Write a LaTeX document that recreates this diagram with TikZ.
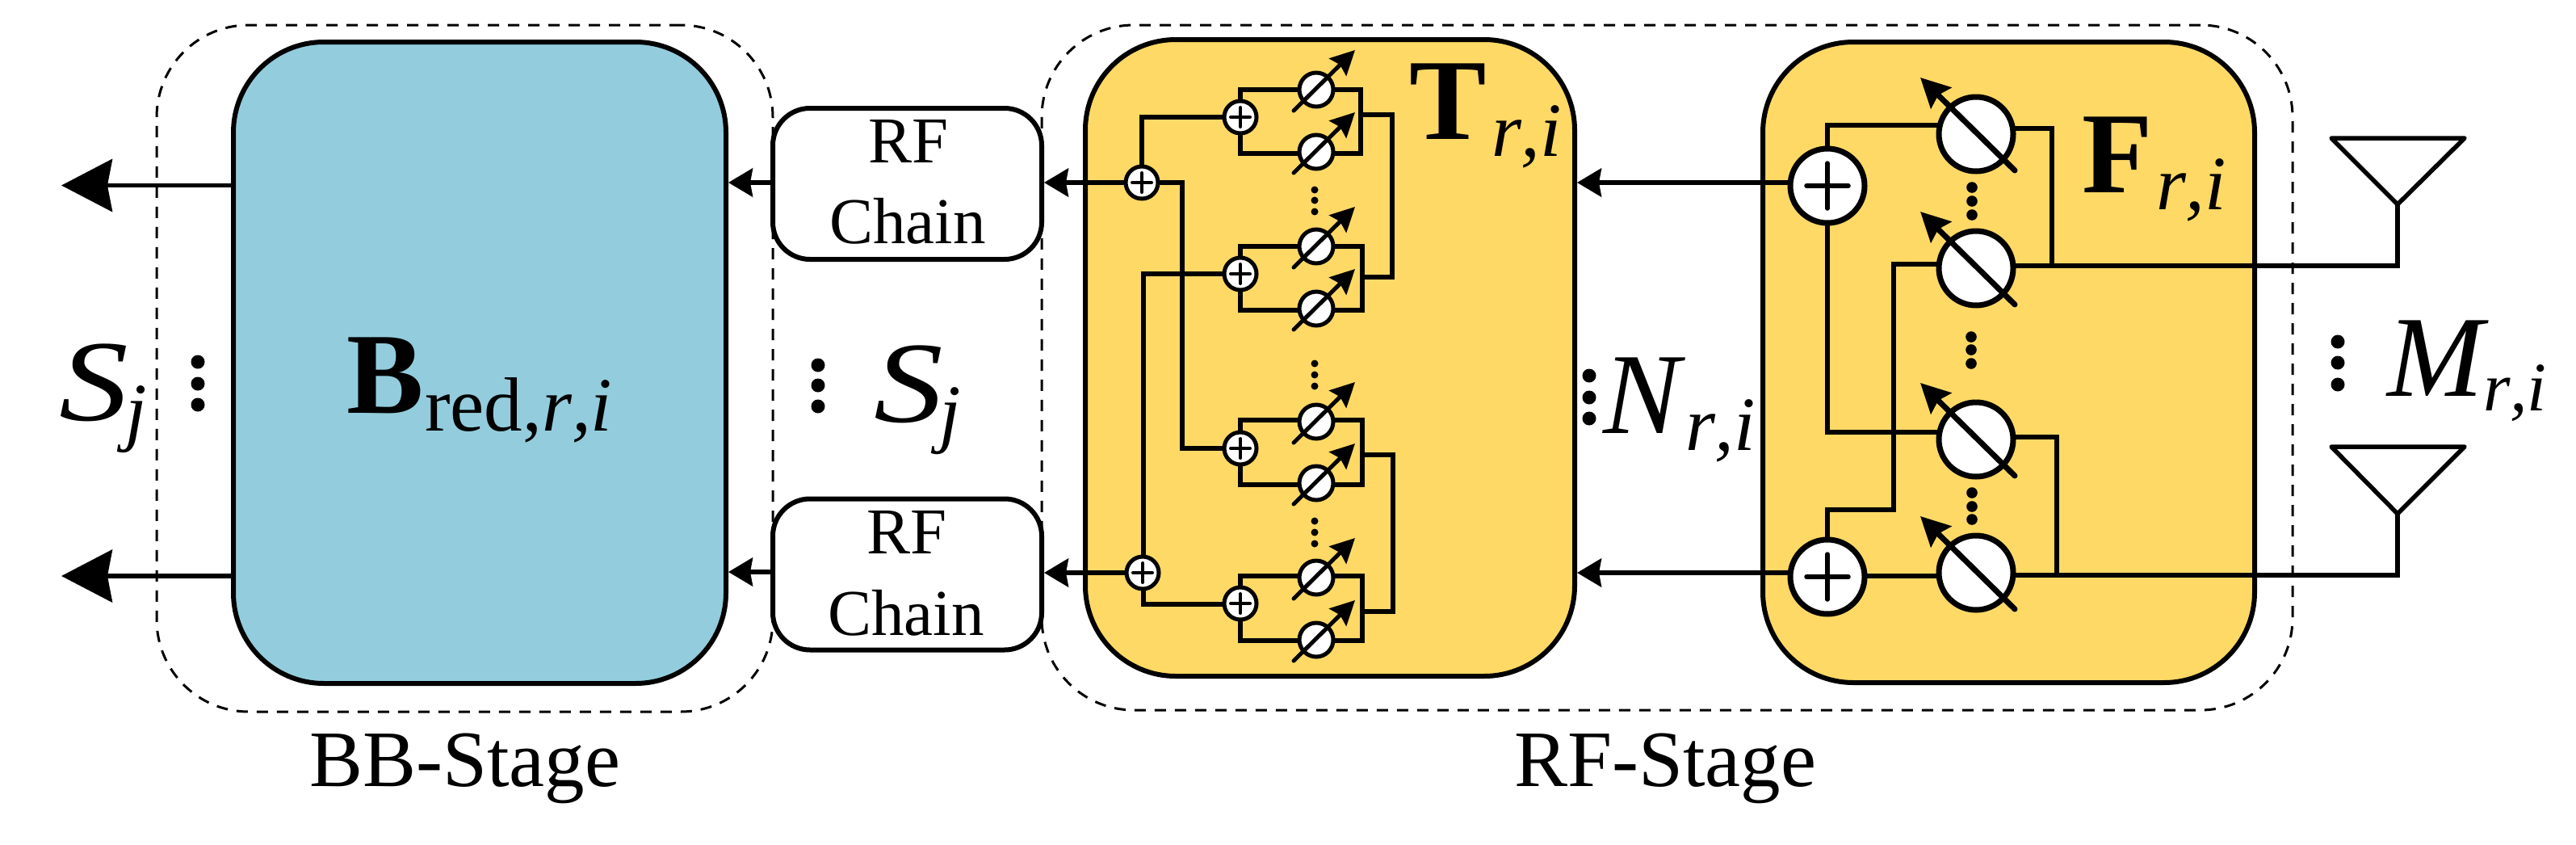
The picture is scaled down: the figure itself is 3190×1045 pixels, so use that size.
\documentclass[tikz,border=0pt]{standalone}
\usepackage{fontspec}
\usepackage{graphicx}
\setmainfont[Kerning=Off]{Liberation Serif}
\usetikzlibrary{arrows.meta}
\pgfdeclarelayer{background}
\pgfdeclarelayer{wires}
\pgfsetlayers{background,wires,main}
\definecolor{amber}{HTML}{FFD966}
\definecolor{paleblue}{HTML}{93CDDD}
\newcommand{\bigtxt}[1]{{\fontsize{71.5}{80}\selectfont #1}}
\newcommand{\subfs}[1]{{\fontsize{47.5}{50}\selectfont #1}}
\newcommand{\subfm}[1]{{\fontsize{43}{50}\selectfont #1}}
\newcommand{\lab}[1]{{\fontsize{49.5}{50}\selectfont #1}}
\newcommand{\rfs}{\fontsize{40.5}{50}\selectfont}
\tikzset{
  x=0.5pt, y=-0.5pt,
  wire/.style={line width=2.75pt, line join=miter, line cap=rect},
  frame/.style={draw, line width=1.5pt, dash pattern=on 7pt off 5.5pt, rounded corners=57pt},
  panel/.style={draw, line width=3pt, inner sep=0pt, outer sep=0pt, rounded corners=56pt},
  rfbox/.style={draw, fill=white, line width=3pt, inner sep=0pt, outer sep=0pt,
    minimum width=166.5pt, minimum height=93.5pt, rounded corners=23pt, align=center},
  smallsum/.style={circle, draw, fill=white, line width=2.5pt, minimum size=20pt, inner sep=0pt, outer sep=0pt},
  bigsum/.style={circle, draw, fill=white, line width=3.5pt, minimum size=46pt, inner sep=0pt, outer sep=0pt},
  txt/.style={inner sep=0pt, outer sep=0pt, anchor=base west},
  bighead/.style={-{Stealth[length=31.5pt, width=32.5pt, inset=3pt]}},
  midhead/.style={-{Stealth[length=15pt, width=17.5pt, inset=1.5pt]}},
  smallarrow/.style={line width=2.5pt, line cap=round, -{Stealth[length=15pt, width=15pt, inset=2pt]}},
  largearrow/.style={line width=3.5pt, line cap=round, -{Stealth[length=18pt, width=18pt, inset=2.5pt]}},
}
\begin{document}
\begin{tikzpicture}
\useasboundingbox (0,0) rectangle (3190,1045);

\begin{pgfonlayer}{background}
  \fill[white] (0,0) rectangle (3190,1045);
  % Dashed stage frames
  \node[frame, minimum width=381.5pt, minimum height=425pt] (bbframe) at (575.5,456) {};
  \node[frame, minimum width=774.5pt, minimum height=424pt] (rfframe) at (2064.5,455) {};
  % Processing blocks
  \node[panel, fill=paleblue, minimum width=305pt, minimum height=397pt] (bb) at (594,449) {};
  \node[panel, fill=amber, minimum width=303pt, minimum height=394pt] (tbox) at (1647,443) {};
  \node[panel, fill=amber, minimum width=304.5pt, minimum height=396.5pt] (fbox) at (2487.5,448.5) {};
\end{pgfonlayer}

% RF chains
\node[rfbox] (rf1) at (1123.5,227.5) {};
\node[rfbox] (rf2) at (1123.5,711) {};
\node[txt] (rf1a) at (1075,201) {\rfs RF};
\node[txt] (rf1b) at (1027,301) {\rfs Chain};
\node[txt] (rf2a) at (1073,685) {\rfs RF};
\node[txt] (rf2b) at (1025,786) {\rfs Chain};

% First-level combiners of the inner network
\foreach \n/\cx/\cy in {ca/1414/226, cb/1415/709}{
  \node[smallsum] (\n) at (\cx,\cy) {};
  \draw[line width=2pt, line cap=round] (\cx-12,\cy) -- (\cx+12,\cy) (\cx,\cy-12) -- (\cx,\cy+12);
}
% Second-level combiners
\foreach \n/\cx/\cy in {sa/1536/145, sb/1536/339, sc/1536/555, sd/1536/747}{
  \node[smallsum] (\n) at (\cx,\cy) {};
  \draw[line width=2pt, line cap=round] (\cx-12,\cy) -- (\cx+12,\cy) (\cx,\cy-12) -- (\cx,\cy+12);
}
% Small phase shifters
\foreach \n/\cy in {pa/111, pb/188, pc/305, pd/382, pe/522, pf/598, pg/715, ph/792}{
  \node[smallsum, minimum size=21pt] (\n) at (1630,\cy) {};
  \draw[smallarrow] (1630-28,\cy+26) -- (1630+48,\cy-49);
}
% Large combiners
\foreach \n/\cy in {fa/230, fb/714}{
  \node[bigsum] (\n) at (2263,\cy) {};
  \draw[line width=2.75pt, line cap=round] (2263-26,\cy) -- (2263+26,\cy) (2263,\cy-28) -- (2263,\cy+28);
}
% Large phase shifters
\foreach \n/\cy in {qa/166, qb/332, qc/544, qd/709}{
  \node[bigsum] (\n) at (2447,\cy) {};
  \draw[largearrow] (2447+48,\cy+45) -- (2447-69,\cy-70);
}

% Antennas
\coordinate (anta) at (2969,253);
\coordinate (antb) at (2969,636);
\draw[line width=2.75pt, line join=round] (anta) -- ++(-82,-82) -- ++(165,0) -- cycle;
\draw[line width=2.75pt, line join=round] (antb) -- ++(-82,-83) -- ++(165,0) -- cycle;

% Free ends of the stream outputs
\coordinate (outa) at (76,229.5);
\coordinate (outb) at (76,713);

\begin{pgfonlayer}{wires}
  % Stream outputs and the links between blocks
  \draw[wire, line cap=butt, bighead] (bb.west |- outa) -- (outa);
  \draw[wire, line cap=butt, bighead] (bb.west |- outb) -- (outb);
  \draw[wire, line cap=butt, midhead] (rf1.west |- 0,226) -- (902,226);
  \draw[wire, line cap=butt, midhead] (rf2.west |- 0,708) -- (902,708);
  \draw[wire, line cap=butt, midhead] (ca) -- (1293,226);
  \draw[wire, line cap=butt, midhead] (cb) -- (1293,709);
  \draw[wire, line cap=butt, midhead] (fa.center |- 0,226) -- (1953,226);
  \draw[wire, line cap=butt, midhead] (fb.center |- 0,709) -- (1953,709);

  % Combiner tree inside the left panel
  \draw[wire] (ca) |- (sa);
  \draw[wire] (ca) -- (1464,226) |- (sc);
  \draw[wire] (1416,339) -- (sb);
  \draw[wire] (1416,339) -- (1416,709);
  \draw[wire] (1416,748) -- (1536,748);
  \draw[wire] (1416,709) -- (1416,748);

  % Shifter groups: each one is a loop through its combiner and two shifters
  \draw[wire] (sa) -- (sa |- pa) -- (1685,111) -- (1685,190) -- (1536,190) -- (sa);
  \draw[wire] (sb) -- (sb |- pc) -- (1687,305) -- (1687,384) -- (1536,384) -- (sb);
  \draw[wire] (sc) -- (1536,520) -- (1687,520) -- (1687,600) -- (1536,600) -- (sc);
  \draw[wire] (sd) -- (1536,713) -- (1687,713) -- (1687,793) -- (1536,793) -- (sd);

  % Collectors on the right of the groups
  \draw[wire] (1685,142) -- (1724,142) -- (1724,343) -- (1687,343);
  \draw[wire] (1687,563) -- (1725,563) -- (1725,757) -- (1687,757);

  % Right panel wiring
  \draw[wire] (fa) -- (2263,155) -- (2447,155);
  \draw[wire] (fa) -- (2263,535) -- (2447,535);
  \draw[wire] (fb) -- (2263,631) -- (2345,631) -- (2345,327) -- (2447,327);
  \draw[wire] (fb.center |- 0,713) -- (qd.center |- 0,713);
  \draw[wire] (2447,159) -- (2541,159) -- (2541,329);
  \draw[wire] (2447,541) -- (2547,541) -- (2547,712);
  \draw[wire] (qb.center |- 0,329) -- (anta |- 0,329) -- (anta);
  \draw[wire] (qd.center |- 0,712) -- (antb |- 0,712) -- (antb);
\end{pgfonlayer}

% Ellipsis dots
\foreach \px/\py in {245/448,245/475,245/501, 1013/452,1013/477,1013/503,
                     1968/465,1968/492,1968/518, 2895/423,2895/449,2895/476}
  \fill (\px,\py) circle[radius=4.25pt];
\foreach \px/\py in {1628/235,1628/248,1628/262, 1628/450,1628/464,1628/478, 1628/645,1628/659,1628/673}
  \fill (\px,\py) circle[radius=2.25pt];
\foreach \px/\py in {2442/232,2442/249,2442/266, 2441/417,2441/433,2441/450, 2442/610,2442/627,2442/643}
  \fill (\px,\py) circle[radius=3.4pt];

% Labels
\node[txt] (lbb) at (429,511) {\bigtxt{\bfseries B}};
\node[txt] (lbbs) at (526,533) {\subfs{red,\itshape r,i}};
\node[txt] (ltt) at (1745,172) {\bigtxt{\bfseries T}};
\node[txt] (ltts) at (1847,193) {\subfs{\itshape r,i}};
\node[txt] (lff) at (2578,238) {\bigtxt{\bfseries F}};
\node[txt] (lffs) at (2670,259) {\subfs{\itshape r,i}};
\node[txt] (lsa) at (73,520) {\bigtxt{\itshape\scalebox{1.2}[1]{S}}};
\node[txt] (lsas) at (155,540) {\subfs{\itshape j}};
\node[txt] (lsb) at (1082,522) {\bigtxt{\itshape\scalebox{1.2}[1]{S}}};
\node[txt] (lsbs) at (1163,542) {\subfs{\itshape j}};
\node[txt] (ln) at (1985,536) {\bigtxt{\itshape N}};
\node[txt] (lns) at (2087,557) {\subfs{\itshape r,i}};
\node[txt] (lm) at (2956,490) {\bigtxt{\itshape M}};
\node[txt] (lms) at (3075,508) {\subfm{\itshape r,i}};
\node[txt] (lbbst) at (383,973) {\lab{BB-Stage}};
\node[txt] (lrfst) at (1875,973) {\lab{RF-Stage}};
\end{tikzpicture}
\end{document}
